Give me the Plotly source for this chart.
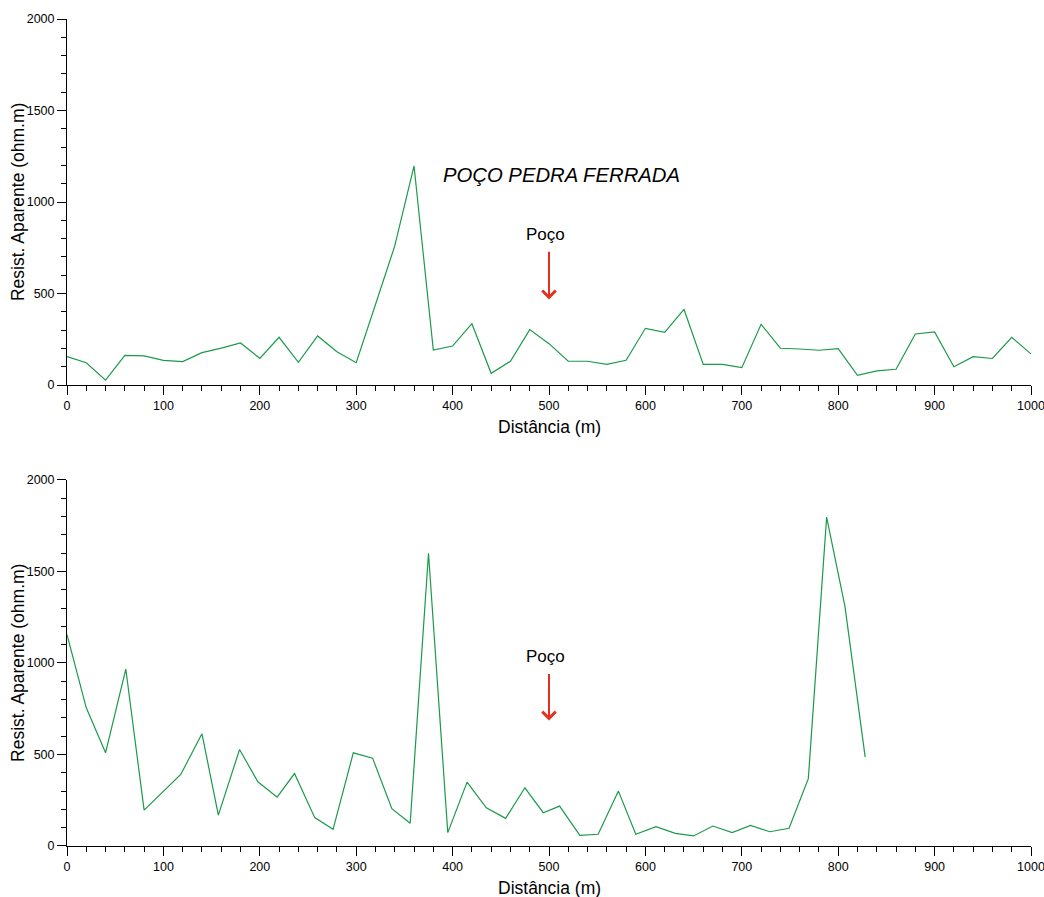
import plotly.graph_objects as go

# Top profile (POÇO PEDRA FERRADA)
top_x = [0, 20, 40, 60, 80, 100, 120, 140, 160, 180, 200, 220, 240, 260, 280, 300,
         320, 340, 360, 380, 400, 420, 440, 460, 480, 500, 520, 540, 560, 580, 600,
         620, 640, 660, 680, 700, 720, 740, 760, 780, 800, 820, 840, 860, 880, 900,
         920, 940, 960, 980, 1000]
top_y = [155, 122, 27, 162, 159, 135, 128, 177, 202, 230, 146, 261, 124, 268, 182, 122,
         440, 760, 1197, 191, 213, 335, 64, 130, 303, 226, 130, 130, 113, 135, 310,
         288, 414, 113, 113, 95, 332, 201, 197, 190, 199, 53, 77, 86, 279, 290,
         100, 155, 145, 261, 170]

# Bottom profile
bot_x = [0, 20, 40, 61, 80, 99, 118, 140, 157, 179, 198, 218, 236, 257, 276, 297,
         317, 337, 356, 375, 395, 415, 435, 455, 475, 494, 511, 532, 551, 572, 590,
         611, 631, 650, 670, 690, 709, 729, 749, 769, 788, 807, 828]
bot_y = [1155, 755, 509, 967, 196, 295, 391, 613, 169, 527, 351, 267, 396, 155, 91, 509,
         480, 204, 124, 1600, 73, 349, 209, 151, 318, 182, 218, 58, 64, 300, 64,
         106, 69, 55, 109, 73, 113, 78, 97, 368, 1797, 1309, 486]

title_text = "POÇO PEDRA FERRADA"
well_label = "Poço"
well_x = 500
# label / arrow tail / arrow tip heights (data units) for top and bottom panels
well_label_y = [823, 1036]
arrow_tail_y = [736, 948]
arrow_tip_y = [468, 686]
x_title = "Distância (m)"
y_title = "Resist. Aparente (ohm.m)"

line_color = "#1b9a4b"
arrow_color = "#e3301f"
font_family = "Liberation Sans, Arial, sans-serif"

fig = go.Figure()
fig.add_trace(go.Scatter(x=top_x, y=top_y, mode="lines", xaxis="x", yaxis="y",
                         line=dict(color=line_color, width=1.2), showlegend=False))
fig.add_trace(go.Scatter(x=bot_x, y=bot_y, mode="lines", xaxis="x2", yaxis="y2",
                         line=dict(color=line_color, width=1.2), showlegend=False))

def xax(anchor):
    return dict(range=[0, 1000], dtick=100, ticks="outside", ticklen=9, tickwidth=1,
                tickcolor="black", showline=True, linecolor="black", linewidth=1,
                showgrid=False, zeroline=False, anchor=anchor, automargin=False,
                ticklabeloverflow="allow",
                tickfont=dict(size=12.5, color="black", family=font_family),
                minor=dict(dtick=20, ticks="outside", ticklen=5, tickcolor="black", tickwidth=1))

def yax(domain, anchor):
    return dict(range=[0, 2000], dtick=500, domain=domain, ticks="outside", ticklen=9,
                tickwidth=1, tickcolor="black", showline=True, linecolor="black", linewidth=1,
                showgrid=False, zeroline=False, anchor=anchor, automargin=False,
                ticklabeloverflow="allow",
                tickfont=dict(size=12.5, color="black", family=font_family),
                minor=dict(dtick=100, ticks="outside", ticklen=5, tickcolor="black", tickwidth=1))

fig.update_layout(
    width=1044, height=897,
    margin=dict(l=67, r=13, t=19, b=51),
    paper_bgcolor="white", plot_bgcolor="white",
    font=dict(family=font_family, color="black"),
    hovermode=False,
    xaxis=xax("y"),
    yaxis=yax([0.5574, 1.0], "x"),
    xaxis2=xax("y2"),
    yaxis2=yax([0.0, 0.4426], "x2"),
)

title_font = dict(size=17.5, color="black", family=font_family)
annotations = [
    dict(x=513, y=1147, xref="x", yref="y", text="<i>" + title_text + "</i>", showarrow=False,
         font=dict(size=20.3, color="black", family=font_family)),
]
for i, (xr, yr) in enumerate((("x", "y"), ("x2", "y2"))):
    # axis titles
    annotations.append(dict(x=0.5, y=0, xref=xr + " domain", yref=yr + " domain",
                            text=x_title, showarrow=False, yanchor="middle", yshift=-42,
                            font=title_font))
    annotations.append(dict(x=0, y=0.5, xref=xr + " domain", yref=yr + " domain",
                            text=y_title, showarrow=False, textangle=-90, xanchor="center",
                            xshift=-49, font=title_font))
    # well marker
    annotations.append(dict(x=well_x - 4, y=well_label_y[i], xref=xr, yref=yr, text=well_label,
                            showarrow=False,
                            font=dict(size=17, color="black", family=font_family)))
    annotations.append(dict(x=well_x, y=arrow_tip_y[i], xref=xr, yref=yr, ax=well_x,
                            ay=arrow_tail_y[i], axref=xr, ayref=yr, text="", showarrow=True,
                            arrowhead=4, arrowsize=1.3, arrowwidth=2,
                            arrowcolor=arrow_color))
fig.update_layout(annotations=annotations)

fig.write_html(
    "out.html",
    config={"displayModeBar": False},
    post_script="document.body.style.margin='0';document.body.style.overflow='hidden';",
)
